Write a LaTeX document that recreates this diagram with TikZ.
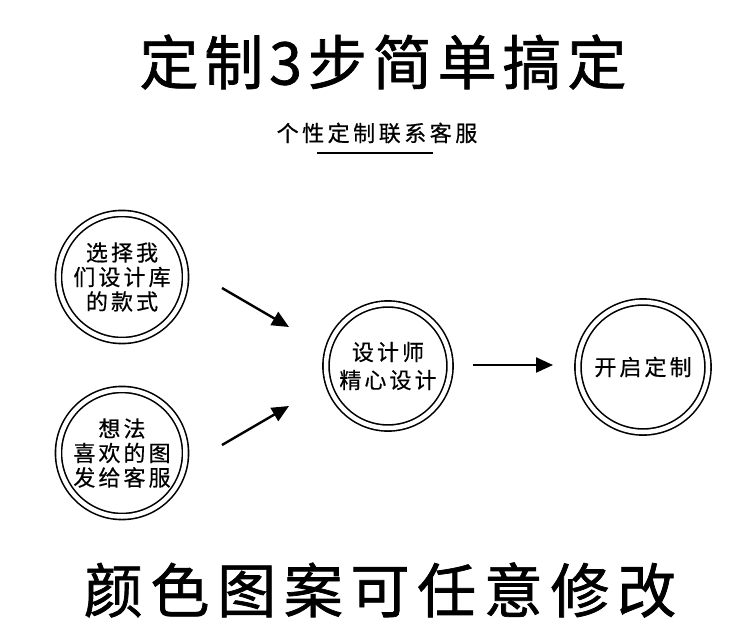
\documentclass[tikz,border=0pt]{standalone}
\usepackage{fontspec}
\usetikzlibrary{arrows.meta}
\newfontfamily\cjktitle[LetterSpace=10,FakeBold=1.2]{Noto Sans CJK SC}
\newfontfamily\cjkbottom[LetterSpace=13,FakeBold=1.2]{Noto Sans CJK SC}
\newfontfamily\cjksub[LetterSpace=16,FakeBold=0.6]{Noto Sans CJK SC}
\newfontfamily\cjkcirc[LetterSpace=14,FakeBold=0.5]{Noto Sans CJK SC}
\begin{document}
\begin{tikzpicture}[x=1pt,y=-1pt,
  ring/.style={circle,draw=black,line width=1.6pt,minimum size=127pt,inner sep=0pt,
    double distance=4.5pt,double=white,
    font=\cjkcirc\fontsize{22}{24.5}\selectfont,align=center,text=black},
  flow/.style={line width=2.4pt,-{Triangle[length=17pt,width=15pt]}},
]
\useasboundingbox (0,0) rectangle (750,640);
\fill[white] (0,0) rectangle (750,640);

\node[font=\cjktitle\fontsize{59}{60}\selectfont,inner sep=0pt] (title) at (383,62) {定制3步简单搞定};
\node[font=\cjksub\fontsize{22}{22}\selectfont,inner sep=0pt] (sub) at (377,133) {个性定制联系客服};
\coordinate (ulA) at (317,153);
\coordinate (ulB) at (433,153);
\draw[line width=2pt] (ulA) -- (ulB);

\node[ring] (c1) at (122,277) {选择我\\们设计库\\的款式};
\node[ring] (c2) at (122,453) {想法\\喜欢的图\\发给客服};
\node[ring,minimum size=124pt,font=\cjkcirc\fontsize{22}{28}\selectfont] (c3) at (388,366) {设计师\\精心设计};
\node[ring,minimum size=130pt] (c4) at (643,367) {开启定制};

\coordinate (a1s) at (222,288);
\coordinate (a1e) at (289,327);
\coordinate (a2s) at (222,445);
\coordinate (a2e) at (289,406);
\coordinate (a3s) at (473,365);
\coordinate (a3e) at (553,365);
\draw[flow] (a1s) -- (a1e);
\draw[flow] (a2s) -- (a2e);
\draw[flow] (a3s) -- (a3e);

\node[font=\cjkbottom\fontsize{59}{60}\selectfont,inner sep=0pt] (bottom) at (380,590) {颜色图案可任意修改};
\end{tikzpicture}
\end{document}
